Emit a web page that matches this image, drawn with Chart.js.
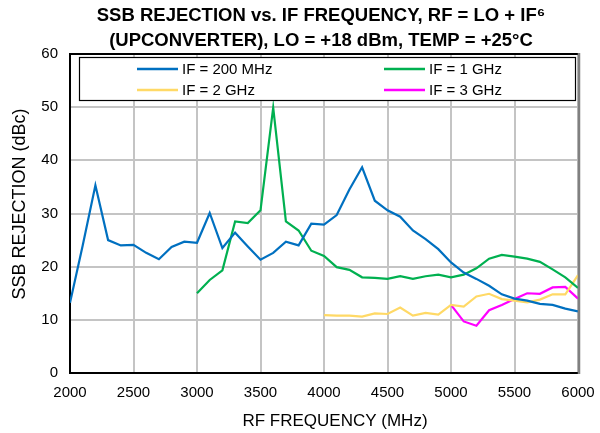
<!DOCTYPE html>
<html>
<head>
<meta charset="utf-8">
<script src="https://cdn.jsdelivr.net/npm/chart.js@4/dist/chart.umd.min.js"></script>
<style>
  html, body { margin: 0; padding: 0; background: #ffffff; }
  canvas { display: block; }
</style>
</head>
<body>
<canvas id="c" width="600" height="433"></canvas>
<script>
// RF frequency points (MHz) for each IF setting
const rfIf200 = [2000, 2100, 2200, 2300, 2400, 2500, 2600, 2700, 2800, 2900, 3000,
  3100, 3200, 3300, 3400, 3500, 3600, 3700, 3800, 3900, 4000,
  4100, 4200, 4300, 4400, 4500, 4600, 4700, 4800, 4900, 5000,
  5100, 5200, 5300, 5400, 5500, 5600, 5700, 5800, 5900, 6000];
const rejIf200 = [13.2, 24.0, 35.3, 25.0, 24.0, 24.1, 22.6, 21.4, 23.7, 24.7, 24.5,
  30.1, 23.5, 26.4, 23.8, 21.3, 22.6, 24.7, 24.0, 28.1, 27.9,
  29.7, 34.5, 38.7, 32.4, 30.6, 29.4, 26.8, 25.2, 23.3, 20.8,
  18.9, 17.7, 16.4, 14.8, 14.0, 13.6, 13.0, 12.8, 12.1, 11.6];

const rfIf1G = [3000, 3100, 3200, 3300, 3400, 3500, 3600, 3700, 3800, 3900, 4000,
  4100, 4200, 4300, 4400, 4500, 4600, 4700, 4800, 4900, 5000,
  5100, 5200, 5300, 5400, 5500, 5600, 5700, 5800, 5900, 6000];
const rejIf1G = [15.0, 17.5, 19.3, 28.5, 28.2, 30.6, 49.9, 28.5, 26.8, 23.0, 22.0,
  19.9, 19.4, 18.0, 17.9, 17.7, 18.2, 17.7, 18.2, 18.5, 18.0,
  18.5, 19.7, 21.5, 22.2, 21.9, 21.5, 20.9, 19.5, 18.0, 16.0];

const rfIf2G = [4000, 4100, 4200, 4300, 4400, 4500, 4600, 4700, 4800, 4900, 5000,
  5100, 5200, 5300, 5400, 5500, 5600, 5700, 5800, 5900, 6000];
const rejIf2G = [10.9, 10.8, 10.8, 10.6, 11.2, 11.1, 12.3, 10.8, 11.3, 11.0, 12.8,
  12.5, 14.4, 14.9, 13.9, 13.6, 13.3, 13.8, 14.8, 14.8, 18.4];

const rfIf3G = [5000, 5100, 5200, 5300, 5400, 5500, 5600, 5700, 5800, 5900, 6000];
const rejIf3G = [12.8, 9.7, 8.9, 11.8, 12.8, 13.9, 15.0, 14.9, 16.1, 16.2, 14.0];

const seriesLabels = ['IF = 200 MHz', 'IF = 1 GHz', 'IF = 2 GHz', 'IF = 3 GHz'];
const xTicks = [2000, 2500, 3000, 3500, 4000, 4500, 5000, 5500, 6000];
const yTicks = [0, 10, 20, 30, 40, 50, 60];
const titleLines = ['SSB REJECTION vs. IF FREQUENCY, RF = LO + IF\u2076',
  '(UPCONVERTER), LO = +18 dBm, TEMP = +25\u00B0C'];
const xAxisTitle = 'RF FREQUENCY (MHz)';
const yAxisTitle = 'SSB REJECTION (dBc)';

const FONT = '"Liberation Sans", Arial, Helvetica, sans-serif';
const colors = ['#0070C0', '#00B050', '#FFD966', '#FF00FF'];

function pairs(xs, ys) {
  return xs.map((x, i) => ({ x: x, y: ys[i] }));
}

const datasets = [
  [rfIf200, rejIf200], [rfIf1G, rejIf1G], [rfIf2G, rejIf2G], [rfIf3G, rejIf3G]
].map((s, i) => ({
  label: seriesLabels[i],
  data: pairs(s[0], s[1]),
  borderColor: colors[i],
  backgroundColor: colors[i],
  borderWidth: 2.2,
  pointRadius: 0,
  tension: 0,
  fill: false
}));

// Heading and axis captions
const captionsPlugin = {
  id: 'captions',
  afterDraw(chart) {
    const ctx = chart.ctx;
    ctx.save();
    ctx.fillStyle = '#000';
    ctx.textAlign = 'center';
    ctx.textBaseline = 'alphabetic';
    ctx.font = 'bold 18.5px ' + FONT;
    ctx.fillText(titleLines[0], 321, 21);
    ctx.fillText(titleLines[1], 321, 46);

    ctx.font = '17px ' + FONT;
    ctx.fillText(xAxisTitle, 335, 426);

    ctx.translate(25, 204);
    ctx.rotate(-Math.PI / 2);
    ctx.font = '18px ' + FONT;
    ctx.fillText(yAxisTitle, 0, 0);
    ctx.restore();
  }
};

// Plot frame: dark top edge, grey right edge
const framePlugin = {
  id: 'frame',
  afterDatasetsDraw(chart) {
    const { ctx, chartArea: a } = chart;
    ctx.save();
    ctx.lineWidth = 2;
    ctx.strokeStyle = '#000';
    ctx.beginPath();
    ctx.moveTo(a.left, a.top);
    ctx.lineTo(a.right, a.top);
    ctx.stroke();
    ctx.strokeStyle = '#808080';
    ctx.lineWidth = 2.5;
    ctx.beginPath();
    ctx.moveTo(a.right + 1, a.top - 1);
    ctx.lineTo(a.right + 1, a.bottom + 1);
    ctx.stroke();
    ctx.restore();
  }
};

// Boxed two-column legend inside the plot area
const legendBoxPlugin = {
  id: 'legendBox',
  afterDatasetsDraw(chart) {
    const ctx = chart.ctx;
    const a = chart.chartArea;
    const box = { l: a.left + 9, t: a.top + 3, r: a.right - 2, b: a.top + 47 };
    ctx.save();
    ctx.fillStyle = '#fff';
    ctx.fillRect(box.l, box.t, box.r - box.l, box.b - box.t);
    ctx.strokeStyle = '#000';
    ctx.lineWidth = 1.2;
    ctx.strokeRect(box.l + 0.5, box.t + 0.5, box.r - box.l - 1, box.b - box.t - 1);
    ctx.font = '15px ' + FONT;
    ctx.textBaseline = 'middle';
    ctx.textAlign = 'left';
    const cols = [137, 384];
    const rows = [box.t + 12, box.t + 33];
    chart.data.datasets.forEach((ds, i) => {
      const cx = cols[i % 2];
      const cy = rows[Math.floor(i / 2)];
      ctx.strokeStyle = ds.borderColor;
      ctx.lineWidth = 2.5;
      ctx.beginPath();
      ctx.moveTo(cx, cy);
      ctx.lineTo(cx + 41, cy);
      ctx.stroke();
      ctx.fillStyle = '#000';
      ctx.fillText(ds.label, cx + 45, cy + 1);
    });
    ctx.restore();
  }
};

new Chart(document.getElementById('c'), {
  type: 'line',
  data: { datasets: datasets },
  options: {
    responsive: false,
    animation: false,
    devicePixelRatio: 1,
    layout: { padding: { top: 54, right: 22, left: 0, bottom: 0 } },
    plugins: {
      legend: { display: false },
      title: { display: false },
      tooltip: { enabled: false }
    },
    scales: {
      x: {
        type: 'linear',
        min: xTicks[0],
        max: xTicks[xTicks.length - 1],
        afterFit(scale) {
          scale.height = 60;
          scale.paddingLeft = 0;
          scale.paddingRight = 0;
        },
        afterBuildTicks(scale) { scale.ticks = xTicks.map(v => ({ value: v })); },
        ticks: {
          color: '#000',
          font: { family: FONT, size: 15 },
          padding: 11,
          maxRotation: 0,
          callback: v => String(v)
        },
        grid: { color: '#c4c4c4', lineWidth: 2, drawTicks: false },
        border: { color: '#000', width: 2 }
      },
      y: {
        type: 'linear',
        min: yTicks[0],
        max: yTicks[yTicks.length - 1],
        afterFit(scale) {
          scale.width = 70;
          scale.paddingTop = 0;
          scale.paddingBottom = 0;
        },
        afterBuildTicks(scale) { scale.ticks = yTicks.map(v => ({ value: v })); },
        ticks: {
          color: '#000',
          font: { family: FONT, size: 15 },
          padding: 12,
          callback: v => String(v)
        },
        grid: { color: '#c4c4c4', lineWidth: 2, drawTicks: false },
        border: { color: '#000', width: 2 }
      }
    }
  },
  plugins: [legendBoxPlugin, framePlugin, captionsPlugin]
});
</script>
</body>
</html>
